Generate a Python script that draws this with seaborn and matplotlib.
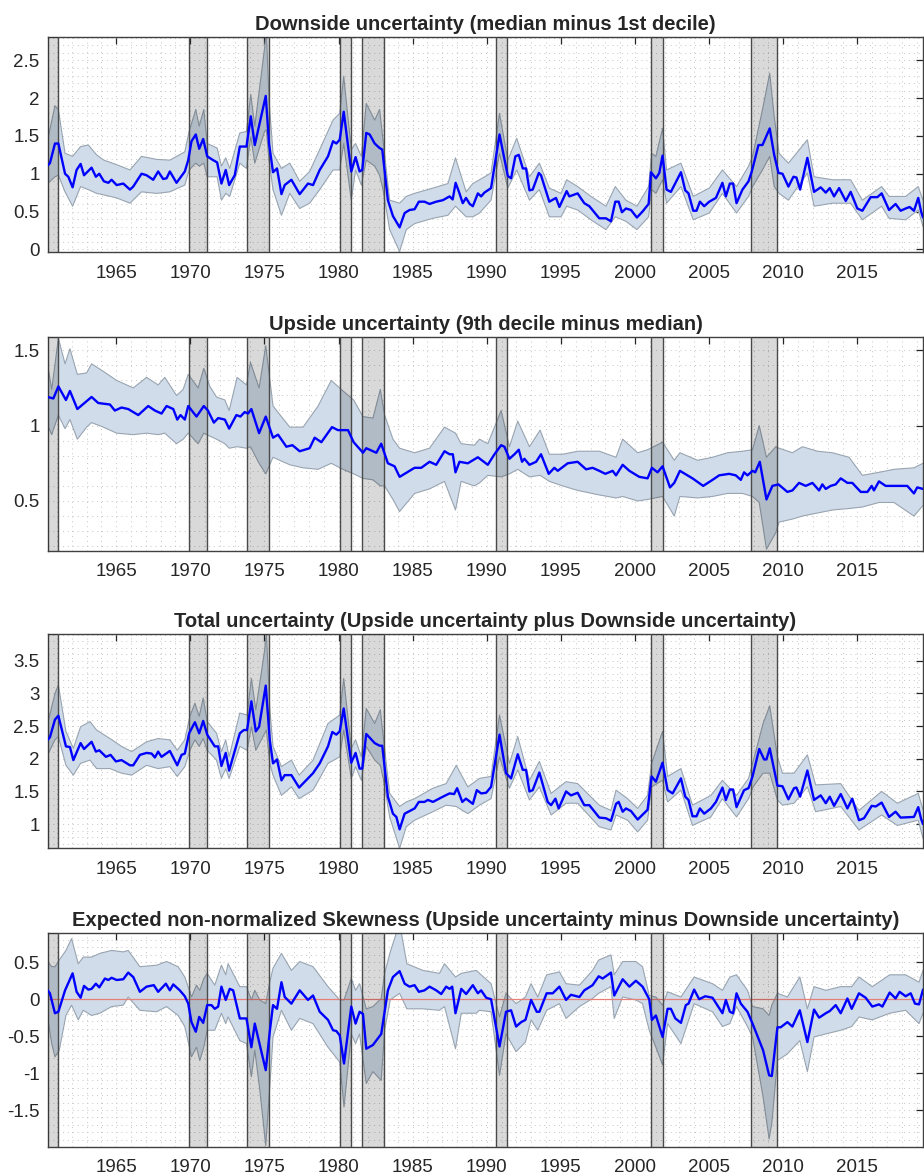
import numpy as np
import pandas as pd
import matplotlib
matplotlib.use("Agg")
import matplotlib.pyplot as plt
from matplotlib.ticker import MultipleLocator, FuncFormatter
import seaborn as sns

sns.set_style("white")
plt.rcParams['font.family'] = ['Liberation Sans', 'DejaVu Sans']
plt.rcParams['axes.unicode_minus'] = False

# ---------------- data ----------------
titles = [
    "Downside uncertainty (median minus 1st decile)",
    "Upside uncertainty (9th decile minus median)",
    "Total uncertainty (Upside uncertainty plus Downside uncertainty)",
    "Expected non-normalized Skewness (Upside uncertainty minus Downside uncertainty)",
]

rec_start = [1960.33, 1969.88, 1973.83, 1980.07, 1981.60, 1990.60, 2001.10, 2007.83]
rec_end = [1961.10, 1971.10, 1975.34, 1980.86, 1983.10, 1991.37, 2001.86, 2009.56]

# Panel 1: downside uncertainty (median line)
down_t = [1960.38, 1960.53, 1960.87, 1961.10, 1961.55, 1961.77, 1962.06, 1962.33, 1962.60, 1962.83,
          1963.34, 1963.63, 1963.86, 1964.17, 1964.47, 1964.69, 1965.03, 1965.48, 1965.93, 1966.15,
          1966.71, 1967.05, 1967.50, 1967.83, 1968.17, 1968.40, 1968.62, 1969.07, 1969.63, 1969.86,
          1970.08, 1970.37, 1970.60, 1970.87, 1971.14, 1971.54, 1971.81, 1972.10, 1972.39, 1972.62,
          1973.00, 1973.34, 1973.79, 1974.08, 1974.35, 1975.09, 1975.31, 1975.58, 1975.85, 1976.15,
          1976.37, 1976.82, 1977.38, 1977.94, 1978.28, 1978.73, 1979.29, 1979.63, 1979.85, 1980.08,
          1980.35, 1980.86, 1981.15, 1981.42, 1981.60, 1981.87, 1982.10, 1982.44, 1982.77, 1982.95,
          1983.33, 1983.67, 1984.12, 1984.46, 1984.79, 1985.13, 1985.42, 1985.80, 1986.14, 1986.59,
          1987.04, 1987.49, 1987.70, 1987.90, 1988.16, 1988.38, 1988.60, 1988.85, 1989.06, 1989.40,
          1989.62, 1989.84, 1990.29, 1990.86, 1991.42, 1991.64, 1991.93, 1992.16, 1992.43, 1992.65,
          1992.88, 1993.10, 1993.51, 1993.66, 1994.22, 1994.67, 1994.90, 1995.39, 1995.57, 1996.13,
          1996.58, 1996.92, 1997.59, 1998.04, 1998.38, 1998.67, 1998.90, 1999.12, 1999.39, 1999.73,
          2000.13, 2000.51, 2000.92, 2001.08, 2001.41, 2001.64, 2001.86, 2002.13, 2002.42, 2003.10,
          2003.39, 2003.61, 2003.93, 2004.15, 2004.38, 2004.67, 2005.01, 2005.46, 2005.90, 2006.13,
          2006.40, 2006.62, 2006.85, 2007.25, 2007.66, 2007.88, 2008.33, 2008.60, 2009.09, 2009.39,
          2009.68, 2009.95, 2010.35, 2010.69, 2010.89, 2011.14, 2011.63, 2012.08, 2012.53, 2012.87,
          2013.14, 2013.43, 2013.77, 2014.22, 2014.55, 2015.00, 2015.34, 2015.90, 2016.35, 2016.64,
          2017.14, 2017.58, 2017.92, 2018.26, 2018.53, 2018.82, 2019.11, 2019.30, 2019.43]
down_v = [1.11, 1.14, 1.40, 1.40, 1.00, 0.96, 0.82, 1.05, 1.13, 0.98,
          1.08, 0.96, 1.00, 0.90, 0.88, 0.92, 0.85, 0.87, 0.79, 0.83,
          1.00, 0.98, 0.92, 1.03, 0.93, 0.94, 1.03, 0.88, 1.03, 1.18,
          1.43, 1.52, 1.33, 1.46, 1.23, 1.18, 1.15, 0.87, 1.05, 0.85,
          0.98, 1.36, 1.36, 1.76, 1.38, 2.03, 1.40, 1.02, 1.07, 0.73,
          0.85, 0.92, 0.73, 0.87, 0.85, 1.05, 1.23, 1.43, 1.40, 1.45,
          1.82, 1.03, 1.22, 1.03, 1.05, 1.54, 1.52, 1.40, 1.34, 1.32,
          0.65, 0.44, 0.29, 0.48, 0.52, 0.53, 0.63, 0.63, 0.60, 0.63,
          0.65, 0.70, 0.66, 0.88, 0.74, 0.61, 0.68, 0.60, 0.57, 0.74,
          0.70, 0.75, 0.81, 1.52, 0.97, 0.94, 1.23, 1.25, 1.07, 1.07,
          0.78, 0.79, 1.01, 0.98, 0.63, 0.68, 0.56, 0.77, 0.70, 0.74,
          0.61, 0.57, 0.41, 0.41, 0.37, 0.63, 0.63, 0.49, 0.54, 0.52,
          0.42, 0.50, 0.60, 1.02, 0.94, 1.01, 1.24, 0.79, 0.76, 1.02,
          0.78, 0.74, 0.51, 0.51, 0.63, 0.57, 0.63, 0.68, 0.88, 0.70,
          0.87, 0.87, 0.61, 0.79, 0.90, 1.03, 1.38, 1.38, 1.60, 1.25,
          1.01, 1.00, 0.83, 0.96, 0.95, 0.79, 1.21, 0.76, 0.82, 0.75,
          0.81, 0.70, 0.81, 0.64, 0.76, 0.54, 0.51, 0.69, 0.69, 0.74,
          0.52, 0.60, 0.51, 0.54, 0.56, 0.51, 0.68, 0.50, 0.42]
down_bt = [1960.38, 1960.87, 1961.10, 1961.55, 1962.06, 1962.60, 1963.12, 1963.68, 1964.17, 1965.03,
           1965.93, 1966.71, 1967.72, 1968.62, 1969.63, 1969.92, 1970.37, 1970.60, 1970.91, 1971.14,
           1971.81, 1972.10, 1972.39, 1972.66, 1973.34, 1973.79, 1974.08, 1974.35, 1975.01, 1975.13,
           1975.31, 1975.58, 1976.15, 1976.71, 1977.38, 1978.05, 1978.73, 1979.63, 1980.08, 1980.35,
           1980.86, 1981.15, 1981.54, 1981.87, 1982.44, 1982.77, 1983.00, 1983.45, 1984.12, 1984.57,
           1985.13, 1986.37, 1987.38, 1987.89, 1988.61, 1989.06, 1989.51, 1990.29, 1990.86, 1991.42,
           1992.02, 1992.88, 1993.55, 1994.22, 1995.01, 1995.39, 1996.13, 1997.03, 1998.04, 1998.67,
           1999.39, 2000.13, 2000.92, 2001.12, 2001.41, 2001.86, 2002.13, 2003.10, 2003.93, 2005.01,
           2005.90, 2006.85, 2007.66, 2007.93, 2008.60, 2009.09, 2009.39, 2009.72, 2010.35, 2011.63,
           2012.08, 2013.32, 2014.55, 2015.34, 2016.64, 2017.14, 2018.26, 2019.11, 2019.43]
down_lo = [0.87, 0.96, 0.98, 0.76, 0.57, 0.83, 0.79, 0.74, 0.72, 0.68,
           0.61, 0.76, 0.74, 0.76, 0.85, 1.05, 1.14, 1.10, 1.14, 0.96,
           0.96, 0.65, 0.74, 0.70, 1.14, 1.07, 1.49, 1.14, 1.56, 1.58,
           1.18, 0.79, 0.45, 0.74, 0.54, 0.61, 0.79, 1.05, 1.05, 1.40,
           0.65, 1.05, 0.85, 1.18, 1.10, 0.98, 0.79, 0.26, -0.03, 0.26,
           0.34, 0.41, 0.45, 0.57, 0.43, 0.43, 0.48, 0.65, 1.27, 0.81,
           1.05, 0.65, 0.79, 0.43, 0.43, 0.57, 0.52, 0.39, 0.26, 0.43,
           0.37, 0.26, 0.43, 0.79, 0.74, 0.92, 0.61, 0.83, 0.39, 0.48,
           0.74, 0.48, 0.70, 0.83, 1.05, 1.23, 0.83, 0.74, 0.65, 1.01,
           0.57, 0.61, 0.61, 0.39, 0.57, 0.41, 0.39, 0.52, 0.30]
down_hi = [1.45, 1.90, 1.85, 1.27, 1.23, 1.36, 1.38, 1.25, 1.18, 1.12,
           1.05, 1.23, 1.19, 1.18, 1.29, 1.56, 1.85, 1.63, 1.85, 1.40,
           1.34, 1.10, 1.21, 1.07, 1.54, 1.56, 2.05, 1.63, 2.66, 2.90,
           1.98, 1.27, 1.07, 1.14, 0.90, 1.03, 1.32, 1.71, 1.80, 2.29,
           1.32, 1.40, 1.23, 1.93, 1.71, 1.85, 1.45, 0.65, 0.61, 0.70,
           0.74, 0.81, 0.87, 1.21, 0.76, 0.87, 0.92, 1.01, 1.80, 1.18,
           1.47, 0.96, 1.14, 0.81, 0.74, 0.92, 0.83, 0.70, 0.57, 0.83,
           0.65, 0.57, 0.83, 1.27, 1.23, 1.60, 1.05, 1.14, 0.70, 0.81,
           1.05, 0.83, 1.10, 1.23, 1.85, 2.33, 1.76, 1.27, 1.14, 1.45,
           0.96, 0.92, 0.92, 0.65, 0.83, 0.70, 0.70, 0.83, 0.65]

# Panel 2: upside uncertainty
up_t = [1960.38, 1960.76, 1961.10, 1961.61, 1961.88, 1962.38, 1963.34, 1963.79, 1964.58, 1964.91,
        1965.36, 1965.81, 1966.49, 1967.16, 1967.61, 1968.06, 1968.40, 1968.85, 1969.12, 1969.34,
        1969.63, 1969.86, 1970.42, 1970.91, 1971.19, 1971.59, 1971.88, 1972.33, 1972.62, 1973.11,
        1973.38, 1973.67, 1973.89, 1974.12, 1974.64, 1975.09, 1975.58, 1975.92, 1976.48, 1976.89,
        1977.38, 1978.05, 1978.39, 1978.84, 1979.56, 1979.96, 1980.30, 1980.64, 1981.02, 1981.65,
        1981.87, 1982.55, 1982.88, 1983.33, 1983.78, 1984.12, 1984.46, 1985.13, 1985.58, 1986.14,
        1986.59, 1987.15, 1987.49, 1987.71, 1987.89, 1988.16, 1988.72, 1989.40, 1990.07, 1990.52,
        1990.97, 1991.19, 1991.53, 1991.87, 1992.16, 1992.38, 1992.54, 1992.88, 1993.33, 1993.66,
        1994.18, 1994.56, 1994.79, 1995.46, 1996.13, 1996.70, 1997.14, 1997.59, 1998.00, 1998.49,
        1998.72, 1999.17, 1999.62, 2000.29, 2000.85, 2001.14, 2001.52, 2001.86, 2002.36, 2002.65,
        2003.03, 2003.88, 2004.60, 2005.23, 2005.68, 2006.35, 2006.80, 2007.14, 2007.36, 2007.59,
        2007.93, 2008.11, 2008.42, 2008.87, 2009.27, 2009.68, 2010.28, 2010.62, 2011.07, 2011.52,
        2011.97, 2012.42, 2012.64, 2012.87, 2013.20, 2013.54, 2013.88, 2014.33, 2014.66, 2015.23,
        2015.68, 2015.97, 2016.12, 2016.46, 2016.91, 2017.36, 2018.37, 2018.82, 2019.04, 2019.43]
up_v = [1.19, 1.18, 1.26, 1.17, 1.23, 1.11, 1.19, 1.15, 1.14, 1.10,
        1.12, 1.11, 1.07, 1.13, 1.10, 1.08, 1.13, 1.11, 1.04, 1.07,
        1.04, 1.13, 1.06, 1.13, 1.10, 1.02, 1.05, 1.04, 0.98, 1.07,
        1.06, 1.09, 1.08, 1.11, 0.95, 1.06, 0.92, 0.94, 0.86, 0.87,
        0.83, 0.85, 0.92, 0.89, 0.99, 0.97, 0.97, 0.97, 0.89, 0.82,
        0.85, 0.82, 0.88, 0.75, 0.73, 0.66, 0.68, 0.72, 0.72, 0.76,
        0.74, 0.83, 0.81, 0.81, 0.69, 0.76, 0.75, 0.79, 0.74, 0.81,
        0.87, 0.86, 0.78, 0.81, 0.84, 0.76, 0.78, 0.74, 0.76, 0.81,
        0.68, 0.72, 0.70, 0.75, 0.76, 0.71, 0.72, 0.70, 0.68, 0.70,
        0.67, 0.74, 0.70, 0.66, 0.65, 0.72, 0.69, 0.73, 0.59, 0.62,
        0.70, 0.65, 0.60, 0.64, 0.67, 0.68, 0.67, 0.64, 0.69, 0.67,
        0.70, 0.69, 0.76, 0.51, 0.60, 0.61, 0.56, 0.57, 0.62, 0.60,
        0.62, 0.57, 0.61, 0.58, 0.60, 0.61, 0.65, 0.62, 0.62, 0.56,
        0.56, 0.60, 0.57, 0.63, 0.60, 0.60, 0.60, 0.55, 0.59, 0.58]
up_bt = [1960.38, 1960.65, 1961.10, 1961.55, 1961.88, 1962.38, 1963.01, 1963.34, 1964.13, 1965.03,
         1966.15, 1967.05, 1967.83, 1968.28, 1969.07, 1969.52, 1969.86, 1970.53, 1970.91, 1971.32,
         1971.77, 1972.33, 1972.62, 1973.16, 1973.79, 1974.06, 1974.64, 1975.09, 1975.58, 1976.71,
         1977.61, 1978.62, 1979.51, 1980.30, 1981.02, 1981.65, 1982.32, 1982.82, 1983.11, 1983.67,
         1984.12, 1985.13, 1986.14, 1987.15, 1987.89, 1988.27, 1989.17, 1989.51, 1990.07, 1990.97,
         1991.53, 1992.09, 1992.88, 1993.60, 1994.22, 1995.12, 1996.13, 1997.59, 1998.72, 1999.17,
         2000.18, 2000.85, 2001.86, 2002.65, 2003.03, 2004.22, 2005.23, 2006.24, 2007.25, 2007.93,
         2008.38, 2008.87, 2009.50, 2009.72, 2010.62, 2011.30, 2012.31, 2013.32, 2014.44, 2015.34,
         2016.46, 2017.47, 2018.82, 2019.43]
up_lo = [1.00, 0.94, 1.07, 0.98, 1.04, 0.91, 0.99, 1.02, 0.99, 0.95,
         0.94, 0.95, 0.94, 0.95, 0.88, 0.91, 0.95, 0.88, 0.95, 0.93,
         0.91, 0.88, 0.85, 0.86, 0.85, 0.86, 0.75, 0.68, 0.79, 0.74,
         0.72, 0.71, 0.75, 0.71, 0.68, 0.65, 0.64, 0.60, 0.60, 0.51,
         0.43, 0.55, 0.58, 0.63, 0.44, 0.63, 0.60, 0.62, 0.67, 0.66,
         0.68, 0.71, 0.66, 0.67, 0.63, 0.60, 0.57, 0.54, 0.52, 0.53,
         0.50, 0.51, 0.53, 0.40, 0.53, 0.52, 0.53, 0.55, 0.55, 0.53,
         0.49, 0.18, 0.29, 0.36, 0.38, 0.40, 0.42, 0.44, 0.45, 0.46,
         0.49, 0.49, 0.40, 0.47]
up_hi = [1.40, 1.24, 1.58, 1.41, 1.51, 1.34, 1.35, 1.41, 1.36, 1.30,
         1.25, 1.32, 1.27, 1.32, 1.20, 1.24, 1.34, 1.25, 1.38, 1.26,
         1.19, 1.17, 1.10, 1.32, 1.27, 1.42, 1.25, 1.53, 1.13, 0.99,
         0.99, 1.13, 1.30, 1.23, 1.17, 1.06, 1.05, 1.24, 1.07, 0.91,
         0.85, 0.82, 0.85, 0.99, 0.95, 0.88, 0.87, 0.91, 0.88, 1.10,
         0.86, 1.03, 0.86, 0.97, 0.81, 0.81, 0.83, 0.83, 0.79, 0.91,
         0.82, 0.84, 0.89, 0.77, 0.82, 0.77, 0.79, 0.82, 0.83, 0.84,
         1.00, 0.79, 0.86, 0.85, 0.82, 0.86, 0.83, 0.82, 0.79, 0.67,
         0.69, 0.71, 0.72, 0.75]

# Panel 3: total uncertainty
tot_t = [1960.38, 1960.53, 1960.87, 1961.10, 1961.61, 1961.88, 1962.11, 1962.60, 1962.83, 1963.34,
         1963.63, 1963.86, 1964.31, 1964.62, 1964.98, 1965.36, 1965.93, 1966.15, 1966.60, 1967.05,
         1967.39, 1967.61, 1967.83, 1968.06, 1968.62, 1969.12, 1969.41, 1969.63, 1969.92, 1970.31,
         1970.60, 1970.87, 1971.14, 1971.65, 1971.88, 1972.10, 1972.39, 1972.62, 1973.34, 1973.61,
         1973.83, 1974.12, 1974.42, 1974.64, 1975.09, 1975.36, 1975.58, 1975.85, 1976.15, 1976.37,
         1976.82, 1977.34, 1977.94, 1978.28, 1978.73, 1979.29, 1979.58, 1979.85, 1980.08, 1980.35,
         1980.86, 1981.15, 1981.42, 1981.60, 1981.87, 1982.44, 1982.77, 1982.95, 1983.33, 1983.67,
         1983.90, 1984.12, 1984.46, 1985.13, 1985.42, 1985.80, 1986.03, 1986.37, 1987.04, 1987.49,
         1987.80, 1988.00, 1988.35, 1988.60, 1989.06, 1989.33, 1989.62, 1989.96, 1990.29, 1990.86,
         1991.30, 1991.64, 1992.09, 1992.43, 1992.65, 1992.88, 1993.10, 1993.55, 1994.11, 1994.34,
         1994.63, 1994.85, 1995.35, 1995.68, 1996.13, 1996.58, 1996.92, 1997.59, 1998.04, 1998.38,
         1998.72, 1998.90, 1999.17, 1999.39, 1999.73, 2000.18, 2000.85, 2001.12, 2001.41, 2001.86,
         2002.20, 2002.54, 2003.10, 2003.39, 2003.61, 2003.88, 2004.15, 2004.38, 2004.67, 2005.12,
         2005.46, 2005.90, 2006.13, 2006.40, 2006.62, 2006.85, 2007.36, 2007.66, 2007.93, 2008.38,
         2008.71, 2008.87, 2009.09, 2009.61, 2009.95, 2010.35, 2010.73, 2010.89, 2011.14, 2011.63,
         2012.08, 2012.53, 2012.87, 2013.14, 2013.43, 2013.88, 2014.33, 2014.66, 2015.11, 2015.45,
         2015.97, 2016.24, 2016.64, 2017.14, 2017.58, 2017.92, 2018.82, 2019.11, 2019.30, 2019.43]
tot_v = [2.29, 2.33, 2.60, 2.66, 2.19, 2.18, 1.98, 2.24, 2.15, 2.26,
         2.11, 2.13, 2.03, 2.06, 1.96, 1.98, 1.90, 1.90, 2.06, 2.09,
         2.08, 2.02, 2.11, 2.03, 2.12, 1.90, 2.06, 2.08, 2.39, 2.56,
         2.39, 2.58, 2.37, 2.19, 2.19, 1.89, 2.09, 1.82, 2.39, 2.44,
         2.44, 2.88, 2.42, 2.49, 3.12, 2.29, 1.93, 1.99, 1.67, 1.75,
         1.75, 1.56, 1.70, 1.78, 1.93, 2.19, 2.41, 2.37, 2.42, 2.77,
         1.94, 2.09, 1.85, 1.85, 2.38, 2.24, 2.20, 2.20, 1.42, 1.16,
         1.11, 0.92, 1.16, 1.24, 1.34, 1.34, 1.37, 1.34, 1.42, 1.47,
         1.46, 1.55, 1.34, 1.39, 1.31, 1.52, 1.47, 1.48, 1.57, 2.37,
         1.78, 1.70, 2.07, 1.83, 1.83, 1.50, 1.52, 1.79, 1.34, 1.29,
         1.39, 1.24, 1.50, 1.44, 1.48, 1.29, 1.29, 1.10, 1.09, 1.05,
         1.31, 1.34, 1.19, 1.24, 1.20, 1.07, 1.22, 1.73, 1.65, 1.94,
         1.52, 1.47, 1.70, 1.42, 1.37, 1.12, 1.12, 1.24, 1.16, 1.24,
         1.34, 1.56, 1.37, 1.53, 1.53, 1.26, 1.52, 1.55, 1.73, 2.15,
         1.99, 1.99, 2.16, 1.59, 1.58, 1.38, 1.55, 1.56, 1.42, 1.82,
         1.37, 1.44, 1.32, 1.42, 1.28, 1.46, 1.24, 1.39, 1.06, 1.09,
         1.28, 1.27, 1.33, 1.11, 1.19, 1.10, 1.11, 1.26, 1.08, 1.00]
tot_bt = [1960.38, 1960.87, 1961.10, 1961.61, 1962.11, 1962.60, 1963.23, 1963.68, 1964.58, 1965.36,
          1966.04, 1967.05, 1967.83, 1968.62, 1969.12, 1969.63, 1969.97, 1970.31, 1970.60, 1970.87,
          1971.14, 1971.77, 1972.10, 1972.39, 1972.62, 1973.34, 1973.83, 1974.12, 1974.42, 1975.02,
          1975.13, 1975.36, 1975.58, 1976.15, 1976.82, 1977.34, 1978.28, 1979.29, 1980.08, 1980.35,
          1980.86, 1981.15, 1981.54, 1981.87, 1982.44, 1982.82, 1983.04, 1983.45, 1984.12, 1984.57,
          1985.13, 1986.37, 1987.26, 1987.94, 1988.72, 1989.51, 1990.29, 1990.86, 1991.53, 1992.09,
          1992.88, 1993.55, 1994.34, 1995.35, 1996.13, 1997.59, 1998.38, 1998.72, 1999.50, 2000.18,
          2000.85, 2001.12, 2001.86, 2002.20, 2003.10, 2003.88, 2005.12, 2005.90, 2006.85, 2007.66,
          2007.97, 2008.64, 2009.09, 2009.61, 2009.95, 2010.73, 2011.63, 2012.19, 2013.88, 2015.11,
          2016.64, 2017.70, 2019.11, 2019.43]
tot_lo = [2.06, 2.29, 2.34, 1.90, 1.75, 1.93, 1.98, 1.85, 1.85, 1.78,
          1.75, 1.90, 1.85, 1.88, 1.73, 1.88, 2.13, 2.29, 2.19, 2.31,
          2.13, 1.98, 1.70, 1.85, 1.70, 2.19, 2.13, 2.49, 2.13, 2.39,
          2.44, 1.93, 1.75, 1.44, 1.57, 1.39, 1.52, 1.93, 2.03, 2.44,
          1.70, 1.88, 1.67, 2.19, 1.98, 1.90, 1.67, 1.11, 0.63, 0.96,
          1.06, 1.19, 1.29, 1.27, 1.16, 1.29, 1.39, 2.03, 1.55, 1.83,
          1.37, 1.57, 1.14, 1.32, 1.32, 0.96, 0.91, 1.14, 1.06, 0.88,
          1.06, 1.57, 1.67, 1.34, 1.52, 0.98, 1.11, 1.39, 1.11, 1.39,
          1.57, 1.78, 1.78, 1.37, 1.29, 1.32, 1.57, 1.19, 1.27, 0.91,
          1.14, 0.98, 1.06, 0.78]
tot_hi = [2.54, 3.00, 3.13, 2.42, 2.16, 2.49, 2.57, 2.44, 2.31, 2.19,
          2.11, 2.26, 2.31, 2.29, 2.13, 2.29, 2.65, 2.85, 2.65, 2.93,
          2.57, 2.39, 2.11, 2.29, 2.03, 2.70, 2.67, 3.23, 2.75, 3.67,
          3.95, 2.77, 2.19, 1.88, 1.98, 1.75, 1.98, 2.54, 2.67, 3.23,
          2.16, 2.29, 2.03, 2.77, 2.54, 2.75, 2.29, 1.47, 1.27, 1.34,
          1.39, 1.55, 1.62, 1.90, 1.57, 1.70, 1.73, 2.67, 1.93, 2.34,
          1.67, 1.96, 1.47, 1.65, 1.62, 1.29, 1.21, 1.52, 1.39, 1.24,
          1.44, 1.93, 2.42, 1.73, 1.85, 1.29, 1.44, 1.67, 1.44, 1.70,
          1.96, 2.54, 2.81, 2.03, 1.78, 1.78, 2.06, 1.60, 1.62, 1.21,
          1.50, 1.32, 1.47, 1.22]

# Panel 4: expected non-normalized skewness
skew_t = [1960.38, 1960.53, 1960.87, 1961.10, 1961.55, 1962.06, 1962.33, 1962.60, 1962.83, 1963.12,
          1963.34, 1963.63, 1963.86, 1964.24, 1964.47, 1964.69, 1965.03, 1965.48, 1965.81, 1966.15,
          1966.60, 1967.05, 1967.54, 1967.83, 1968.35, 1968.62, 1968.85, 1969.29, 1969.63, 1969.86,
          1970.08, 1970.37, 1970.60, 1970.87, 1971.14, 1971.43, 1971.65, 1971.88, 1972.10, 1972.39,
          1972.66, 1972.89, 1973.34, 1973.79, 1974.12, 1974.35, 1975.09, 1975.36, 1975.58, 1975.85,
          1976.15, 1976.37, 1976.82, 1977.38, 1977.94, 1978.28, 1978.73, 1979.29, 1979.63, 1979.85,
          1980.08, 1980.37, 1980.86, 1981.15, 1981.42, 1981.65, 1981.87, 1982.32, 1982.88, 1983.33,
          1983.67, 1984.12, 1984.46, 1984.79, 1985.13, 1985.42, 1985.80, 1986.14, 1986.59, 1986.93,
          1987.26, 1987.49, 1987.67, 1987.89, 1988.28, 1988.61, 1989.06, 1989.40, 1989.62, 1989.96,
          1990.29, 1990.86, 1991.30, 1991.64, 1991.98, 1992.32, 1992.61, 1992.99, 1993.37, 1993.55,
          1994.04, 1994.45, 1994.90, 1995.35, 1995.68, 1996.25, 1996.58, 1997.14, 1997.55, 1997.82,
          1998.38, 1998.60, 1999.17, 1999.62, 2000.06, 2000.51, 2000.96, 2001.14, 2001.41, 2001.86,
          2002.20, 2002.42, 2002.72, 2003.10, 2003.43, 2003.61, 2003.99, 2004.33, 2004.74, 2005.23,
          2005.90, 2006.13, 2006.40, 2006.62, 2006.85, 2007.14, 2007.59, 2007.93, 2008.64, 2009.05,
          2009.23, 2009.61, 2009.83, 2010.28, 2010.62, 2011.12, 2011.63, 2012.08, 2012.42, 2012.87,
          2013.14, 2013.54, 2013.88, 2014.33, 2014.62, 2015.11, 2015.56, 2016.01, 2016.46, 2016.69,
          2017.18, 2017.58, 2017.85, 2018.26, 2018.60, 2018.89, 2019.16, 2019.43]
skew_v = [0.12, 0.08, -0.19, -0.17, 0.12, 0.35, 0.10, 0.02, 0.18, 0.13,
          0.14, 0.21, 0.16, 0.28, 0.26, 0.29, 0.26, 0.27, 0.36, 0.30,
          0.10, 0.17, 0.19, 0.10, 0.21, 0.12, 0.20, 0.12, 0.04, -0.06,
          -0.31, -0.44, -0.24, -0.32, -0.08, -0.08, -0.13, -0.10, 0.17, -0.01,
          0.14, 0.12, -0.26, -0.26, -0.65, -0.33, -0.96, -0.44, -0.08, -0.13,
          0.23, 0.03, -0.06, 0.12, -0.01, 0.05, -0.17, -0.28, -0.42, -0.43,
          -0.49, -0.87, -0.10, -0.33, -0.17, -0.20, -0.67, -0.62, -0.47, 0.12,
          0.30, 0.38, 0.21, 0.17, 0.19, 0.10, 0.12, 0.17, 0.12, 0.07,
          0.17, 0.14, 0.17, -0.19, 0.14, 0.07, 0.19, 0.08, 0.12, 0.02,
          0.00, -0.64, -0.17, -0.15, -0.37, -0.31, -0.28, -0.01, -0.17, -0.17,
          0.08, 0.08, 0.17, -0.01, 0.06, 0.03, 0.12, 0.19, 0.31, 0.28,
          0.36, 0.05, 0.27, 0.17, 0.25, 0.17, 0.00, -0.28, -0.22, -0.51,
          -0.13, -0.13, -0.26, -0.32, -0.08, -0.06, 0.13, 0.00, 0.04, 0.02,
          -0.19, -0.01, -0.17, -0.19, 0.08, -0.06, -0.17, -0.33, -0.69, -1.03,
          -1.04, -0.38, -0.38, -0.31, -0.37, -0.15, -0.58, -0.14, -0.25, -0.19,
          -0.16, -0.08, -0.19, 0.01, -0.13, 0.08, 0.02, -0.10, -0.07, -0.10,
          0.09, 0.01, 0.10, 0.04, 0.08, -0.06, -0.07, 0.13]
skew_bt = [1960.38, 1960.65, 1960.87, 1961.16, 1961.61, 1961.99, 1962.44, 1962.78, 1963.34, 1963.90,
           1964.69, 1965.48, 1965.81, 1966.60, 1967.72, 1968.40, 1969.18, 1969.63, 1970.08, 1970.42,
           1970.64, 1970.91, 1971.14, 1971.65, 1972.10, 1972.39, 1972.55, 1973.34, 1973.79, 1974.12,
           1974.35, 1974.69, 1975.09, 1975.36, 1975.58, 1976.15, 1976.82, 1977.38, 1978.28, 1979.29,
           1980.08, 1980.37, 1980.86, 1981.15, 1981.42, 1981.87, 1982.32, 1982.88, 1983.11, 1983.49,
           1984.12, 1984.61, 1985.69, 1986.81, 1987.15, 1987.89, 1988.28, 1989.29, 1989.51, 1990.29,
           1990.86, 1991.30, 1991.98, 1992.61, 1992.99, 1993.44, 1994.04, 1994.90, 1995.35, 1996.25,
           1997.14, 1997.55, 1998.38, 1998.60, 1999.17, 2000.06, 2000.51, 2000.96, 2001.41, 2001.86,
           2002.20, 2003.10, 2003.99, 2005.23, 2005.90, 2006.40, 2006.85, 2007.59, 2007.93, 2008.64,
           2009.05, 2009.23, 2009.61, 2010.28, 2011.12, 2011.63, 2012.08, 2012.87, 2013.88, 2014.62,
           2015.11, 2016.01, 2017.18, 2018.26, 2019.16, 2019.43]
skew_lo = [-0.26, -0.60, -0.78, -0.69, -0.22, -0.08, -0.28, -0.15, -0.22, -0.19,
           -0.10, -0.08, 0.03, -0.15, -0.17, -0.10, -0.22, -0.37, -0.78, -0.65,
           -0.83, -0.65, -0.42, -0.42, -0.19, -0.33, -0.24, -0.56, -0.60, -1.05,
           -0.69, -1.23, -1.98, -1.19, -0.51, -0.15, -0.42, -0.26, -0.33, -0.65,
           -0.85, -1.46, -0.47, -0.60, -0.47, -1.14, -0.98, -1.10, -0.42, -0.01,
           0.08, -0.13, -0.13, -0.15, -0.10, -0.67, -0.19, -0.19, -0.15, -0.17,
           -1.03, -0.47, -0.71, -0.58, -0.28, -0.42, -0.15, -0.06, -0.26, -0.10,
           0.01, 0.08, 0.17, -0.26, 0.03, -0.01, -0.06, -0.42, -0.65, -0.89,
           -0.33, -0.60, -0.06, -0.17, -0.37, -0.33, -0.10, -0.37, -0.51, -1.32,
           -1.89, -1.68, -0.83, -0.74, -0.56, -0.98, -0.51, -0.47, -0.42, -0.37,
           -0.24, -0.28, -0.19, -0.15, -0.33, -0.19]
skew_hi = [0.51, 0.44, 0.44, 0.53, 0.66, 0.82, 0.48, 0.57, 0.57, 0.62,
           0.66, 0.64, 0.66, 0.44, 0.46, 0.51, 0.44, 0.30, 0.03, 0.19,
           0.12, 0.28, 0.35, 0.19, 0.46, 0.33, 0.48, 0.17, 0.17, -0.01,
           0.12, -0.01, -0.06, 0.23, 0.42, 0.62, 0.39, 0.51, 0.44, 0.17,
           -0.01, -0.01, 0.28, 0.12, 0.21, -0.13, -0.10, 0.01, 0.35, 0.64,
           1.03, 0.48, 0.39, 0.35, 0.48, 0.30, 0.35, 0.39, 0.35, 0.21,
           -0.24, 0.08, -0.06, 0.03, 0.21, 0.03, 0.33, 0.37, 0.21, 0.19,
           0.39, 0.53, 0.60, 0.33, 0.51, 0.51, 0.44, 0.05, 0.03, -0.08,
           0.10, 0.03, 0.30, 0.21, 0.12, 0.30, 0.33, 0.12, -0.10, -0.13,
           -0.22, -0.08, 0.08, 0.03, 0.30, -0.13, 0.17, 0.12, 0.17, 0.17,
           0.30, 0.17, 0.33, 0.33, 0.23, 0.39]

panels = [
    dict(t=down_t, v=down_v, bt=down_bt, lo=down_lo, hi=down_hi, ylim=(-0.04, 2.81),
         yticks=[0, 0.5, 1, 1.5, 2, 2.5], zero=False),
    dict(t=up_t, v=up_v, bt=up_bt, lo=up_lo, hi=up_hi, ylim=(0.17, 1.59),
         yticks=[0.5, 1, 1.5], zero=False),
    dict(t=tot_t, v=tot_v, bt=tot_bt, lo=tot_lo, hi=tot_hi, ylim=(0.63, 3.91),
         yticks=[1, 1.5, 2, 2.5, 3, 3.5], zero=False),
    dict(t=skew_t, v=skew_v, bt=skew_bt, lo=skew_lo, hi=skew_hi, ylim=(-2.0, 0.90),
         yticks=[-1.5, -1, -0.5, 0, 0.5], zero=True),
]
xticks = [1965, 1970, 1975, 1980, 1985, 1990, 1995, 2000, 2005, 2010, 2015]

# ---------------- figure ----------------
W, H = 924, 1175
fig = plt.figure(figsize=(W / 100, H / 100), dpi=100)
ax_px = [(37, 252.3), (336.7, 550.7), (634, 848.3), (932.7, 1147)]
left_px, right_px = 48, 923

band_face = '#d0dce9'
band_edge = '#98a4b0'

for i, (p, (top, bot)) in enumerate(zip(panels, ax_px)):
    ax = fig.add_axes([left_px / W, 1 - bot / H, (right_px - left_px) / W, (bot - top) / H])
    ax.set_xlim(1960.4, 2019.43)
    ax.set_ylim(*p['ylim'])

    # confidence band
    ax.fill_between(p['bt'], p['lo'], p['hi'], facecolor=band_face, edgecolor='none', zorder=1)
    ax.plot(p['bt'], p['lo'], color=band_edge, lw=0.8, zorder=1.5)
    ax.plot(p['bt'], p['hi'], color=band_edge, lw=0.8, zorder=1.5)

    if p['zero']:
        ax.axhline(0, color='#e8807a', lw=0.9, zorder=2)

    # recession shading
    for s, e in zip(rec_start, rec_end):
        ax.axvspan(s, e, facecolor='black', alpha=0.15, edgecolor='none', zorder=3)
        ax.axvline(s, color='#4a4a4a', lw=1.0, zorder=3.1)
        ax.axvline(e, color='#4a4a4a', lw=1.0, zorder=3.1)

    df = pd.DataFrame({'date': p['t'], 'value': p['v']})
    sns.lineplot(data=df, x='date', y='value', ax=ax, color='#0000ff', linewidth=1.7,
                 estimator=None, sort=False, zorder=4)

    ax.set_xlabel('')
    ax.set_ylabel('')
    ax.set_title(titles[i], fontsize=14.5, fontweight='bold', pad=5)

    ax.set_xticks(xticks)
    ax.set_yticks(p['yticks'])
    ax.yaxis.set_major_formatter(FuncFormatter(lambda v, pos: f"{v:g}"))
    ax.xaxis.set_minor_locator(MultipleLocator(1))
    ax.yaxis.set_minor_locator(MultipleLocator(0.1))
    ax.grid(True, which='both', color='#c4c4c4', linestyle=(0, (1, 4)), linewidth=0.7, zorder=0)
    ax.set_axisbelow(True)
    ax.tick_params(which='major', direction='in', length=5, width=0.9, color='#262626',
                   top=True, right=True, labelsize=13.5, labelcolor='#262626')
    ax.tick_params(axis='x', which='major', pad=9)
    ax.tick_params(axis='y', which='major', pad=6)
    ax.tick_params(which='minor', length=0)
    for sp in ax.spines.values():
        sp.set_color('#404040')
        sp.set_linewidth(1.0)
        sp.set_visible(True)

fig.savefig('out.png', dpi=100)
